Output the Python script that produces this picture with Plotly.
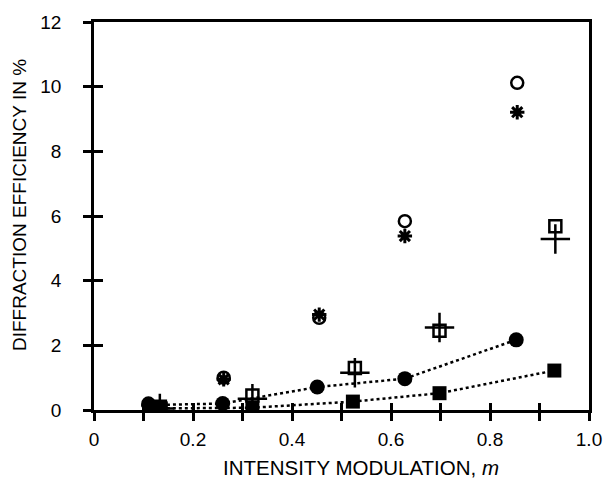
import plotly.graph_objects as go

# Open circles and asterisks (same modulation values)
m_a = [0.11, 0.262, 0.455, 0.628, 0.855]
open_circle = [0.2, 1.0, 2.85, 5.84, 10.12]
asterisk = [0.15, 0.95, 2.95, 5.38, 9.21]

# Open squares and plus signs
m_b = [0.133, 0.32, 0.527, 0.698, 0.932]
open_square = [0.1, 0.45, 1.3, 2.45, 5.68]
plus = [0.05, 0.35, 1.15, 2.55, 5.29]

# Filled circles (dotted line)
m_c = [0.111, 0.26, 0.451, 0.628, 0.853]
filled_circle = [0.15, 0.2, 0.71, 0.97, 2.17]

# Filled squares (dotted line)
m_d = [0.135, 0.32, 0.523, 0.698, 0.93]
filled_square = [0.05, 0.07, 0.26, 0.52, 1.22]

x_tickvals = [0, 0.1, 0.2, 0.3, 0.4, 0.5, 0.6, 0.7, 0.8, 0.9, 1.0]
x_ticktext = ["0", "", "0.2", "", "0.4", "", "0.6", "", "0.8", "", "1.0"]
y_tickvals = [0, 2, 4, 6, 8, 10, 12]
y_ticktext = ["0", "2", "4", "6", "8", "10", "12"]

FONT = "Liberation Sans, Arial, sans-serif"
BLACK = "black"

fig = go.Figure()

fig.add_trace(go.Scatter(x=m_c, y=filled_circle, mode="lines+markers",
                         line=dict(color=BLACK, width=2.5, dash="dot"),
                         marker=dict(symbol="circle", size=15, color=BLACK)))
fig.add_trace(go.Scatter(x=m_d, y=filled_square, mode="lines+markers",
                         line=dict(color=BLACK, width=2.5, dash="dot"),
                         marker=dict(symbol="square", size=14, color=BLACK)))
fig.add_trace(go.Scatter(x=m_a, y=open_circle, mode="markers",
                         marker=dict(symbol="circle-open", size=12, color=BLACK,
                                     line=dict(width=2.5, color=BLACK))))
fig.add_trace(go.Scatter(x=m_a, y=asterisk, mode="markers",
                         marker=dict(symbol="asterisk-open", size=12, color=BLACK,
                                     line=dict(width=3, color=BLACK))))
fig.add_trace(go.Scatter(x=m_b, y=open_square, mode="markers",
                         marker=dict(symbol="square-open", size=12, color=BLACK,
                                     line=dict(width=2.5, color=BLACK))))
fig.add_trace(go.Scatter(x=m_b, y=plus, mode="markers",
                         marker=dict(symbol="cross-thin-open", size=21, color=BLACK,
                                     line=dict(width=2.5, color=BLACK))))
# empty trace to activate overlay axes (inner tick halves)
fig.add_trace(go.Scatter(x=[None], y=[None], xaxis="x2", yaxis="y2",
                         showlegend=False, hoverinfo="skip"))

fig.update_layout(
    width=614, height=489,
    margin=dict(l=94, r=17, t=15, b=79),
    paper_bgcolor="white", plot_bgcolor="white",
    showlegend=False,
    font=dict(family=FONT, size=19, color=BLACK),
    xaxis=dict(range=[0, 1.0], tickvals=x_tickvals, ticktext=x_ticktext,
               ticks="outside", ticklen=8, tickwidth=2.5, tickcolor=BLACK,
               showline=True, linecolor=BLACK, linewidth=2.5, mirror=True,
               showgrid=False, zeroline=False, ticklabelstandoff=2,
               tickfont=dict(size=19)),
    yaxis=dict(range=[0, 12], tickvals=y_tickvals, ticktext=y_ticktext,
               ticks="outside", ticklen=8, tickwidth=2.5, tickcolor=BLACK,
               showline=True, linecolor=BLACK, linewidth=2.5, mirror=True,
               showgrid=False, zeroline=False, ticklabelstandoff=18,
               tickfont=dict(size=19)),
    xaxis2=dict(range=[0, 1.0], overlaying="x", tickvals=x_tickvals,
                showticklabels=False, ticks="inside", ticklen=7, tickwidth=2.5,
                tickcolor=BLACK, showgrid=False, zeroline=False, showline=False,
                side="bottom"),
    yaxis2=dict(range=[0, 12], overlaying="y", tickvals=y_tickvals,
                showticklabels=False, ticks="inside", ticklen=9, tickwidth=2.5,
                tickcolor=BLACK, showgrid=False, zeroline=False, showline=False,
                side="left"),
    annotations=[
        dict(text="INTENSITY MODULATION, <i>m</i>", xref="paper", yref="paper",
             x=0.539, y=-0.147, xanchor="center", yanchor="middle",
             showarrow=False, font=dict(size=20.5, family=FONT)),
        dict(text="DIFFRACTION EFFICIENCY IN %", xref="paper", yref="paper",
             x=-0.149, y=0.529, xanchor="center", yanchor="middle", textangle=-90,
             showarrow=False, font=dict(size=19, family=FONT)),
    ],
)

fig.write_html("out.html", config={"displayModeBar": False},
               post_script="document.body.style.margin='0';")
